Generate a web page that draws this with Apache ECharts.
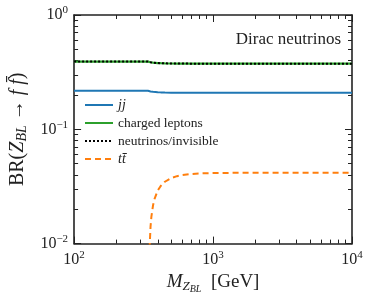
<!DOCTYPE html>
<html><head><meta charset="utf-8">
<script src="https://cdn.jsdelivr.net/npm/echarts@6/dist/echarts.min.js"></script>
<style>html,body{margin:0;padding:0;background:#fff}#c{width:374px;height:299px}</style>
</head><body><div id="c"></div>
<script>
// Z_BL mass points (GeV)
const massX = [100, 200, 300, 340, 346, 347, 350, 355, 360, 370, 380, 400, 420, 450, 500, 550, 600, 700, 800, 1000, 1500, 2000, 5000, 10000];
const jjBR =  [0.2174, 0.2174, 0.2174, 0.2174, 0.2174, 0.2163, 0.2153, 0.2143, 0.2137, 0.2127, 0.2120, 0.2111, 0.2104, 0.2098, 0.2092, 0.2089, 0.2088, 0.2086, 0.2084, 0.2084, 0.2083, 0.2083, 0.2083, 0.2083];
const lepBR = [0.3913, 0.3913, 0.3913, 0.3913, 0.3913, 0.3894, 0.3875, 0.3858, 0.3846, 0.3829, 0.3816, 0.3799, 0.3788, 0.3777, 0.3766, 0.3761, 0.3758, 0.3754, 0.3752, 0.3751, 0.3750, 0.3750, 0.3750, 0.3750];
const nuBR =  [0.3913, 0.3913, 0.3913, 0.3913, 0.3913, 0.3894, 0.3875, 0.3858, 0.3846, 0.3829, 0.3816, 0.3799, 0.3788, 0.3777, 0.3766, 0.3761, 0.3758, 0.3754, 0.3752, 0.3751, 0.3750, 0.3750, 0.3750, 0.3750];
// top pair channel opens at 2 m_t
const ttX =  [347, 350, 355, 360, 370, 380, 400, 420, 450, 500, 550, 600, 700, 800, 1000, 1500, 2000, 5000, 10000];
const ttBR = [0.0049, 0.00966, 0.01415, 0.01725, 0.02166, 0.0248, 0.0291, 0.03195, 0.03476, 0.03744, 0.0389, 0.03978, 0.04068, 0.04111, 0.04144, 0.04163, 0.04164, 0.04166, 0.04167];

const xMajor = [100, 1000, 10000];
const xMinor = [200,300,400,500,600,700,800,900,2000,3000,4000,5000,6000,7000,8000,9000];
const yMajor = [0.01, 0.1, 1];
const yMinor = [0.02,0.03,0.04,0.05,0.06,0.07,0.08,0.09,0.2,0.3,0.4,0.5,0.6,0.7,0.8,0.9];

const serif = 'Liberation Serif';
const txt = '#222';
const pairs = (xs, ys) => xs.map((x, i) => [x, ys[i]]);
const powFmt = v => { const e = Math.round(Math.log10(v)); return '{b|10}{s|' + (e < 0 ? '\u2212' + (-e) : e) + '}'; };
const labRich = { b: { fontFamily: serif, fontSize: 16, color: txt }, s: { fontFamily: serif, fontSize: 11, color: txt, padding: [0, 0, 9, 0] } };

function xAx(pos, minor) {
  return {
    type: 'log', logBase: 10, min: 100, max: 10000, position: pos, gridIndex: 0,
    axisLine: { show: !minor, onZero: false, lineStyle: { color: '#222', width: 1.6 } },
    axisTick: { show: true, inside: true, length: minor ? 4 : 7, customValues: minor ? xMinor : xMajor, lineStyle: { color: '#222', width: 1 } },
    minorTick: { show: false },
    axisLabel: (pos === 'bottom' && !minor) ? { show: true, customValues: xMajor, formatter: powFmt, rich: labRich, margin: 6 } : { show: false },
    splitLine: { show: false }
  };
}
function yAx(pos, minor) {
  return {
    type: 'log', logBase: 10, min: 0.01, max: 1, position: pos, gridIndex: 0,
    axisLine: { show: !minor, onZero: false, lineStyle: { color: '#222', width: 1.6 } },
    axisTick: { show: true, inside: true, length: minor ? 4 : 7, customValues: minor ? yMinor : yMajor, lineStyle: { color: '#222', width: 1 } },
    minorTick: { show: false },
    axisLabel: (pos === 'left' && !minor) ? { show: true, customValues: yMajor, formatter: powFmt, rich: labRich, margin: 6 } : { show: false },
    splitLine: { show: false }
  };
}

const xs = [xAx('bottom', false), xAx('bottom', true), xAx('top', false), xAx('top', true)];
xs[0].name = '{i|M}{sub|Z}{ss|BL}{n|  [GeV]}';
xs[0].nameLocation = 'middle';
xs[0].nameGap = 20;
xs[0].nameTextStyle = { rich: {
  i: { fontFamily: serif, fontStyle: 'italic', fontSize: 19, color: txt },
  sub: { fontFamily: serif, fontStyle: 'italic', fontSize: 13, color: txt, padding: [9, 0, 0, 0] },
  ss: { fontFamily: serif, fontStyle: 'italic', fontSize: 10, color: txt, padding: [14, 0, 0, 0] },
  n: { fontFamily: serif, fontSize: 19, color: txt }
} };
const ys = [yAx('left', false), yAx('left', true), yAx('right', false), yAx('right', true)];
ys[0].name = '{n|BR(}{i|Z}{sub|BL}{n| \u2192 }{i|f f\u0304}{n|)}';
ys[0].nameLocation = 'middle';
ys[0].nameGap = 44;
ys[0].nameRotate = 90;
ys[0].nameTextStyle = { rich: {
  n: { fontFamily: serif, fontSize: 20, color: txt },
  i: { fontFamily: serif, fontStyle: 'italic', fontSize: 20, color: txt },
  sub: { fontFamily: serif, fontStyle: 'italic', fontSize: 14, color: txt, padding: [9, 0, 0, 0] }
} };

const chart = echarts.init(document.getElementById('c'), null, { renderer: 'canvas' });
chart.setOption({
  animation: false,
  backgroundColor: '#fff',
  grid: { left: 71, right: 22, top: 15, bottom: 55, containLabel: false },
  xAxis: xs,
  yAxis: ys,
  title: { text: 'Dirac neutrinos', right: 28, top: 26, textStyle: { fontFamily: serif, fontSize: 17, fontWeight: 'normal', color: txt } },
  legend: {
    orient: 'vertical', left: 79, top: 93, itemWidth: 28, itemHeight: 10, itemGap: 4,
    itemStyle: { opacity: 0 },
    textStyle: { fontFamily: serif, fontSize: 13.5, lineHeight: 14, color: txt,
      rich: { it: { fontFamily: serif, fontStyle: 'italic', fontSize: 14, lineHeight: 14, color: txt } } },
    formatter: n => (n === 'jj' || n === 'tt\u0304') ? '{it|' + n + '}' : n,
    data: ['jj', 'charged leptons', 'neutrinos/invisible', 'tt\u0304']
  },
  series: [
    { name: 'jj', type: 'line', xAxisIndex: 0, yAxisIndex: 0, data: pairs(massX, jjBR), showSymbol: false, symbol: 'none', lineStyle: { color: '#1f77b4', width: 2 }, itemStyle: { color: '#1f77b4' } },
    { name: 'charged leptons', type: 'line', xAxisIndex: 0, yAxisIndex: 0, data: pairs(massX, lepBR), showSymbol: false, symbol: 'none', lineStyle: { color: '#2ca02c', width: 2.2 }, itemStyle: { color: '#2ca02c' } },
    { name: 'neutrinos/invisible', type: 'line', xAxisIndex: 0, yAxisIndex: 0, data: pairs(massX, nuBR), showSymbol: false, symbol: 'none', lineStyle: { color: '#000', width: 2, type: [2, 2] }, itemStyle: { color: '#000' } },
    { name: 'tt\u0304', type: 'line', xAxisIndex: 0, yAxisIndex: 0, data: pairs(ttX, ttBR), showSymbol: false, symbol: 'none', clip: true, lineStyle: { color: '#ff7f0e', width: 2, type: [6, 4] }, itemStyle: { color: '#ff7f0e' } }
  ]
});
</script></body></html>
